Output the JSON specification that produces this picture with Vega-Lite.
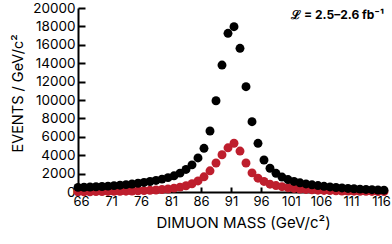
{
  "$schema": "https://vega.github.io/schema/vega-lite/v6.json",
  "autosize": {"type": "none"},
  "padding": {"left": 78, "top": 8, "right": 8, "bottom": 52},
  "width": 306,
  "height": 184,
  "background": "white",
  "config": {
    "view": {"stroke": null},
    "font": "Inter",
    "axis": {"grid": false, "domainColor": "black", "tickColor": "black", "domainWidth": 2, "tickWidth": 2, "labelColor": "black", "titleColor": "black", "labelFont": "Inter", "titleFont": "Inter", "titleFontWeight": "normal", "labelOverlap": false, "labelBound": false, "labelFlush": false}
  },
  "datasets": {
    "events": [
      {"mass": 65.5, "all": 500, "sel": 15},
      {"mass": 66.5, "all": 520, "sel": 20},
      {"mass": 67.5, "all": 540, "sel": 30},
      {"mass": 68.5, "all": 570, "sel": 40},
      {"mass": 69.5, "all": 600, "sel": 50},
      {"mass": 70.5, "all": 640, "sel": 60},
      {"mass": 71.5, "all": 690, "sel": 70},
      {"mass": 72.5, "all": 740, "sel": 80},
      {"mass": 73.5, "all": 800, "sel": 90},
      {"mass": 74.5, "all": 870, "sel": 110},
      {"mass": 75.5, "all": 950, "sel": 130},
      {"mass": 76.5, "all": 1040, "sel": 150},
      {"mass": 77.5, "all": 1140, "sel": 180},
      {"mass": 78.5, "all": 1260, "sel": 220},
      {"mass": 79.5, "all": 1400, "sel": 270},
      {"mass": 80.5, "all": 1560, "sel": 330},
      {"mass": 81.5, "all": 1760, "sel": 420},
      {"mass": 82.5, "all": 2050, "sel": 530},
      {"mass": 83.5, "all": 2450, "sel": 680},
      {"mass": 84.5, "all": 2950, "sel": 900},
      {"mass": 85.5, "all": 3700, "sel": 1200},
      {"mass": 86.5, "all": 4750, "sel": 1650},
      {"mass": 87.5, "all": 6630, "sel": 2300},
      {"mass": 88.5, "all": 9920, "sel": 3150},
      {"mass": 89.5, "all": 13800, "sel": 4050},
      {"mass": 90.5, "all": 17250, "sel": 4800},
      {"mass": 91.5, "all": 17970, "sel": 5300},
      {"mass": 92.5, "all": 15620, "sel": 4450},
      {"mass": 93.5, "all": 11450, "sel": 3150},
      {"mass": 94.5, "all": 7640, "sel": 2080},
      {"mass": 95.5, "all": 5290, "sel": 1500},
      {"mass": 96.5, "all": 3480, "sel": 1150},
      {"mass": 97.5, "all": 2580, "sel": 850},
      {"mass": 98.5, "all": 2030, "sel": 700},
      {"mass": 99.5, "all": 1620, "sel": 580},
      {"mass": 100.5, "all": 1350, "sel": 470},
      {"mass": 101.5, "all": 1150, "sel": 390},
      {"mass": 102.5, "all": 1000, "sel": 330},
      {"mass": 103.5, "all": 880, "sel": 280},
      {"mass": 104.5, "all": 780, "sel": 240},
      {"mass": 105.5, "all": 700, "sel": 200},
      {"mass": 106.5, "all": 620, "sel": 170},
      {"mass": 107.5, "all": 550, "sel": 150},
      {"mass": 108.5, "all": 490, "sel": 130},
      {"mass": 109.5, "all": 440, "sel": 110},
      {"mass": 110.5, "all": 390, "sel": 100},
      {"mass": 111.5, "all": 350, "sel": 90},
      {"mass": 112.5, "all": 310, "sel": 80},
      {"mass": 113.5, "all": 280, "sel": 70},
      {"mass": 114.5, "all": 250, "sel": 60},
      {"mass": 115.5, "all": 220, "sel": 50},
      {"mass": 116.5, "all": 200, "sel": 40}
    ]
  },
  "encoding": {
    "x": {"type": "quantitative", "scale": {"domain": [65.5, 116.5], "nice": false, "zero": false},
      "axis": {"values": [66, 71, 76, 81, 86, 91, 96, 101, 106, 111, 116], "format": "d", "tickSize": -5, "labelPadding": 8, "labelFontSize": 13, "title": "DIMUON MASS (GeV/c²)", "titleFontSize": 15, "titlePadding": 7, "titleX": 165}},
    "y": {"type": "quantitative", "scale": {"domain": [0, 20000], "nice": false},
      "axis": {"values": [0, 2000, 4000, 6000, 8000, 10000, 12000, 14000, 16000, 18000, 20000], "format": "d", "tickSize": -7, "labelPadding": 10, "labelFontSize": 13.5, "title": "EVENTS / GeV/c²", "titleFontSize": 14.5, "titlePadding": 7, "titleY": 85}}
  },
  "layer": [
    {
      "data": {"name": "events"},
      "mark": {"type": "circle", "size": 80, "opacity": 1, "color": "#be1e2d"},
      "encoding": {
        "x": {"field": "mass"},
        "y": {"field": "sel"}
      }
    },
    {
      "data": {"name": "events"},
      "mark": {"type": "circle", "size": 80, "opacity": 1, "color": "black"},
      "encoding": {
        "x": {"field": "mass"},
        "y": {"field": "all"}
      }
    },
    {
      "data": {"values": [{"label": "ℒ = 2.5–2.6 fb⁻¹", "lx": 116.5, "ly": 19200}]},
      "mark": {"type": "text", "align": "right", "baseline": "middle", "fontSize": 12, "fontWeight": "bold", "color": "black"},
      "encoding": {
        "text": {"field": "label"},
        "x": {"field": "lx"},
        "y": {"field": "ly"}
      }
    }
  ]
}
